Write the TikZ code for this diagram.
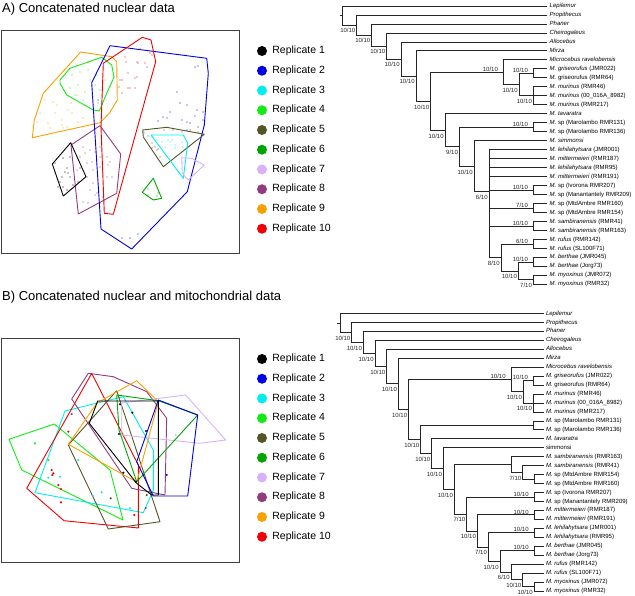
\documentclass[tikz,border=0pt]{standalone}
\usepackage{fontspec}
\setmainfont{Liberation Sans}
\usetikzlibrary{positioning}
\definecolor{rep1}{RGB}{0,0,0}
\definecolor{rep2}{RGB}{0,0,225}
\definecolor{rep3}{RGB}{0,238,238}
\definecolor{rep4}{RGB}{20,235,20}
\definecolor{rep5}{RGB}{85,85,40}
\definecolor{rep6}{RGB}{0,165,0}
\definecolor{rep7}{RGB}{215,178,250}
\definecolor{rep8}{RGB}{145,60,125}
\definecolor{rep9}{RGB}{250,160,0}
\definecolor{rep10}{RGB}{240,0,0}
\tikzset{
  ttl/.style={anchor=west, inner sep=0pt, font=\fontsize{13}{15}\selectfont},
  frame/.style={draw=black!75, line width=0.9pt},
  hull/.style={line width=0.9pt, line join=round},
  swatch/.style={circle, inner sep=0pt, minimum size=10pt},
  reptxt/.style={inner sep=1pt, font=\fontsize{10.5}{12}\selectfont},
  br/.style={line width=0.8pt, black!85, line cap=rect},
  leaf/.style={anchor=west, inner xsep=2.5pt, inner ysep=0pt, text height=4.3pt, text depth=1.2pt, font=\fontsize{6}{7}\selectfont},
  lb/.style={below left, inner sep=1pt, yshift=-2.2pt, text height=4.3pt, text depth=0pt, font=\fontsize{6}{7}\selectfont},
  la/.style={above left, inner sep=0pt, xshift=-5pt, yshift=0.4pt, text height=4.3pt, text depth=0pt, font=\fontsize{6}{7}\selectfont}
}
\begin{document}
\begin{tikzpicture}[x=1pt,y=-1pt]
\useasboundingbox (0,0) rectangle (635,596);

\node[ttl] (ttlA) at (2,9) {A) Concatenated nuclear data};
\draw[frame] (1.5,30) rectangle (239,253);
\draw[hull,rep9] (80.7,52) -- (111.7,56.7) -- (116.7,61.7) -- (117.3,100) -- (109.3,113.3) -- (100,122.7) -- (32.3,137.7) -- (34.3,120) -- (43.3,93.3) -- cycle;
\draw[hull,rep4] (60,80) -- (70,68.3) -- (101.7,57.3) -- (111.7,65) -- (114,77.3) -- (106.7,93.3) -- (99.3,111) -- (93.3,110) -- (66.7,95) -- (60,83.3) -- cycle;
\draw[hull,rep8] (71,145) -- (100,125.7) -- (120.7,154) -- (116.7,193.3) -- (78.3,214) -- cycle;
\draw[hull,rep1] (52.3,164) -- (70.7,142.7) -- (86,176.7) -- (63.3,196) -- cycle;
\draw[hull,rep2] (110,45.7) -- (206.7,58.3) -- (208.3,73.3) -- (204.3,125) -- (187.3,191.7) -- (131.7,249) -- (101,229) -- (91.7,82.7) -- cycle;
\draw[hull,rep10] (103.3,63.3) -- (142.3,37.3) -- (151,40) -- (155.7,61.7) -- (113.3,214.3) -- (104.3,213.3) -- (101,127) -- cycle;
\draw[hull,rep5] (142.7,130) -- (166.7,127.3) -- (204.3,134.3) -- (163.3,166.7) -- (143.3,137) -- cycle;
\draw[hull,rep3] (151,135) -- (183.3,135) -- (187.7,143.3) -- (183.3,178.3) -- cycle;
\draw[hull,rep7] (181.7,157.7) -- (191.7,158.3) -- (204.3,165) -- (188.3,180) -- (182.3,173.3) -- cycle;
\draw[hull,rep6] (153.3,178.3) -- (161.7,198.3) -- (153.3,200) -- (142.3,192.3) -- cycle;
\foreach \x/\y in {45/100,53/102,57/105,71/103,68/110,77/95,37/122,48/123,50/128,62/120,62/125,63/128,67/127,78/122,83/118,77/65,88/62,55/113,40/113,72/113}
  \fill[rep9] (\x,\y) circle (0.7);
\foreach \x/\y in {72/75,80/72,90/80,95/85,78/85,85/92,92/95,100/90,70/88,88/70,97/75,83/100,75/95,105/80,98/103}
  \fill[rep4] (\x,\y) circle (0.7);
\foreach \x/\y in {125/57,126/62,137/62,138/63,145/63,147/67,140/49,150/53,152/55,128/73,135/78,137/77,122/80,120/80,119/87,130/88,128/88,135/88,122/93}
  \fill[rep10] (\x,\y) circle (0.7);
\foreach \x/\y in {195/67,198/66,177/92,180/103,187/105,170/112,163/117,167/118,158/121,182/120,187/122,190/123,197/110,203/112,198/127,187/130,203/120,122/238,130/238,138/234,195/116,98/100}
  \fill[rep2] (\x,\y) circle (0.7);
\foreach \x/\y in {153/137,157/140,162/142,168/140,172/140,175/145,165/147,170/142,182/142,183/147,175/148}
  \fill[rep3] (\x,\y) circle (0.7);
\foreach \x/\y in {144/133,148/136,152/143,155/147,158/149,160/157,164/130,173/130,182/132,190/130,198/132,152/148,157/150}
  \fill[rep5] (\x,\y) circle (0.7);
\foreach \x/\y in {186/170,183/163,190/173}
  \fill[rep7] (\x,\y) circle (0.7);
\foreach \x/\y in {148/189,158/193,148/195,157/196}
  \fill[rep6] (\x,\y) circle (0.7);
\foreach \x/\y in {83/147,90/150,85/153,95/152,100/157,87/163,92/162,93/170,100/167,107/157,110/162,103/173,107/177,108/165,87/177,93/183,90/190,97/193,95/195,103/197,88/203,83/202,100/203,112/177,80/157,77/170,100/147}
  \fill[rep8] (\x,\y) circle (0.7);
\foreach \x/\y in {55/163,63/158,70/157,67/168,65/172,68/173,70/177,60/182,63/187,67/190,73/185,78/182,80/168,58/187,62/177}
  \fill[rep1] (\x,\y) circle (0.7);
\foreach \i in {1,...,10} {
  \node[swatch, fill=rep\i] (kA\i) at (262,{51+19.75*(\i-1)}) {};
  \node[reptxt, right=4pt of kA\i] (tA\i) {Replicate \i};
}

\node[ttl] (ttlB) at (2,297) {B) Concatenated nuclear and mitochondrial data};
\draw[frame] (1.5,338) rectangle (239,562);
\draw[hull,rep4] (9,439.3) -- (54.3,424) -- (110,470) -- (123,520) -- (21.7,470) -- cycle;
\draw[hull,rep3] (65,411) -- (123.3,396.7) -- (153.3,450) -- (153.3,490) -- (143.3,512.7) -- (35,492.7) -- cycle;
\draw[hull,rep10] (91.7,373.3) -- (138.3,465) -- (138.3,528) -- (64,520.7) -- (26.7,488.3) -- cycle;
\draw[hull,rep8] (71.7,399) -- (88.3,373.3) -- (113.3,376.7) -- (146.7,391.7) -- (166.7,418.3) -- (165,495) -- (131.7,488.3) -- cycle;
\draw[hull,rep5] (116.7,390.7) -- (160,521.7) -- (108.3,529) -- (68.3,445) -- cycle;
\draw[hull,rep9] (68.3,444.3) -- (97,403) -- (136.7,380.7) -- (158.3,401.7) -- (136.7,482) -- cycle;
\draw[hull,rep7] (121.7,403) -- (185.7,395) -- (225.7,440) -- (200,443.3) -- (121.7,435) -- cycle;
\draw[hull,rep6] (116.7,395) -- (158.3,400.7) -- (197.7,415) -- (136.7,481.7) -- (119,430) -- cycle;
\draw[hull,rep2] (158.3,400) -- (197.7,415) -- (187.7,496) -- (153.3,496) -- (136.7,461.7) -- cycle;
\draw[hull,rep1] (97.7,401) -- (158.3,401) -- (158.3,495) -- (151.7,495) -- (136.7,483.3) -- (89.3,423.3) -- cycle;
\foreach \x/\y in {35/443.3,48.3/460}
  \fill[rep4] (\x,\y) circle (1.2);
\foreach \x/\y in {68.3/431.7,51.7/470,53.3/473.3,52.3/475,58.3/485,61/489,61/502.3,134.3/515}
  \fill[rep10] (\x,\y) circle (1.2);
\foreach \x/\y in {78.3/460,60/476.7,48.3/477.7,92.7/495.7,101.7/492.3,130/508.3}
  \fill[rep3] (\x,\y) circle (1.2);
\foreach \x/\y in {110.7/498.3,146.7/495}
  \fill[rep5] (\x,\y) circle (1.2);
\foreach \x/\y in {71.7/414,145.7/508}
  \fill[rep8] (\x,\y) circle (1.2);
\foreach \x/\y in {120/404.3,132.3/412.7,146/431,119/434,123.3/472.7,135.7/481.7}
  \fill[rep1] (\x,\y) circle (1.2);
\fill[rep2] (166.7,475) circle (1.2);
\fill[rep7] (175.7,435) circle (1.2);
\foreach \i in {1,...,10} {
  \node[swatch, fill=rep\i] (kB\i) at (262,{359+19.75*(\i-1)}) {};
  \node[reptxt, right=4pt of kB\i] (tB\i) {Replicate \i};
}

\begin{scope}[yshift=2.98pt, y=-8.98pt]
  \coordinate (aR0) at (340,2.06);
  \coordinate (aR) at (342.7,2.06);
  \coordinate (a2) at (356.7,3.11);
  \coordinate (a3) at (371.7,4.23);
  \coordinate (a4) at (386.7,5.45);
  \coordinate (a5) at (401,6.9);
  \coordinate (a6) at (416,8.8);
  \coordinate (a7) at (430.5,11.6);
  \coordinate (a8) at (503.3,8.375);
  \coordinate (a8b) at (519,9.75);
  \coordinate (a8c) at (533.3,8.5);
  \coordinate (a8d) at (533.3,11);
  \coordinate (a9) at (445,14.84);
  \coordinate (a10) at (459.3,16.67);
  \coordinate (a11) at (533.3,14.5);
  \coordinate (a12) at (474,18.84);
  \coordinate (a13) at (489,21.69);
  \coordinate (a14) at (533.3,21.5);
  \coordinate (a15) at (533.3,23.5);
  \coordinate (a16) at (533.3,25.5);
  \coordinate (a17) at (501,29);
  \coordinate (a18) at (533.3,27.5);
  \coordinate (a19) at (518.3,30.5);
  \coordinate (a20) at (533.3,29.5);
  \coordinate (a21) at (533.3,31.5);
  \foreach \t [count=\i] in {\textit{Lepilemur}, \textit{Propithecus}, \textit{Phaner}, \textit{Cheirogaleus}, \textit{Allocebus}, \textit{Mirza}, \textit{Microcebus ravelobensis}, \textit{M. griseorufus} (JMR022), \textit{M.} griseorufus (RMR64), \textit{M. murinus} (RMR46), \textit{M. murinus} (00\_016A\_8982), \textit{M. murinus} (RMR217), \textit{M. tavaratra}, \textit{M.} sp (Marolambo RMR131), \textit{M.} sp (Marolambo RMR136), \textit{M. simmonsi}, \textit{M. lehilahytsara} (JMR001), \textit{M. mittermeieri} (RMR187), \textit{M. lehilahytsara} (RMR95), \textit{M. mittermeieri} (RMR191), \textit{M.} sp (Ivorona RMR207), \textit{M.} sp (Manantantely RMR209), \textit{M.} sp (MtdAmbre RMR160), \textit{M.} sp (MtdAmbre RMR154), \textit{M. sambiranensis} (RMR41), \textit{M. sambiranensis} (RMR163), \textit{M. rufus} (RMR142), \textit{M. rufus} (SL100F71), \textit{M. berthae} (JMR045), \textit{M. berthae} (Jorg73), \textit{M. myoxinus} (JMR072), \textit{M. myoxinus} (RMR32)}
    \node[leaf] (aL\i) at (547,\i) {\t};
  \draw[br] (aR0) -- (aR);
  \foreach \p/\c in {aR/aL1, a2/aL2, a3/aL3, a4/aL4, a5/aL5, a6/aL6, a8/aL7, a8c/aL8, a8c/aL9, a8d/aL10, a8d/aL11, a8d/aL12, a9/aL13, a11/aL14, a11/aL15, a12/aL16, a13/aL17, a13/aL18, a13/aL19, a13/aL20, a14/aL21, a14/aL22, a15/aL23, a15/aL24, a16/aL25, a16/aL26, a18/aL27, a18/aL28, a20/aL29, a20/aL30, a21/aL31, a21/aL32}
    \draw[br] (\p) |- (\c);
  \foreach \p/\c/\v in {aR/a2/10, a2/a3/10, a3/a4/10, a4/a5/10, a5/a6/10, a6/a7/10, a8/a8b/10, a8b/a8d/10, a7/a9/10, a9/a10/9, a10/a12/10, a12/a13/6, a13/a17/8, a17/a19/10, a19/a21/7}
    \draw[br] (\p) |- (\c) node[lb] {\v/10};
  \foreach \p/\c/\v in {a7/a8/10, a8b/a8c/10, a10/a11/10, a13/a14/10, a13/a15/7, a13/a16/10, a17/a18/6, a19/a20/10}
    \draw[br] (\p) |- (\c) node[la] {\v/10};
\end{scope}

\begin{scope}[yshift=-304.55pt, y=-8.95pt]
  \coordinate (bR0) at (337.5,2.06);
  \coordinate (bR) at (340,2.06);
  \coordinate (b2) at (351.7,3.12);
  \coordinate (b3) at (363.3,4.23);
  \coordinate (b4) at (375,5.47);
  \coordinate (b5) at (386.7,6.93);
  \coordinate (b6) at (398.3,8.86);
  \coordinate (b7) at (408.5,11.73);
  \coordinate (b8) at (511,8.375);
  \coordinate (b8b) at (523.3,9.75);
  \coordinate (b8c) at (533.3,8.5);
  \coordinate (b8d) at (533.3,11);
  \coordinate (b9) at (420.7,15.08);
  \coordinate (b10) at (533.3,13.5);
  \coordinate (b11) at (431.7,16.66);
  \coordinate (b12) at (443.3,18.32);
  \coordinate (b13) at (454.3,20.64);
  \coordinate (b14) at (511,17.875);
  \coordinate (b14b) at (522.7,18.75);
  \coordinate (b14c) at (534,19.5);
  \coordinate (b15) at (466.7,23.40);
  \coordinate (b16) at (534,21.5);
  \coordinate (b17) at (477.3,25.30);
  \coordinate (b18) at (534,23.5);
  \coordinate (b19) at (488.3,27.09);
  \coordinate (b20) at (534,25.5);
  \coordinate (b21) at (500,28.69);
  \coordinate (b22) at (534,27.5);
  \coordinate (b23) at (511,29.875);
  \coordinate (b23b) at (522.7,30.75);
  \coordinate (b23c) at (534,31.5);
  \foreach \t [count=\i] in {\textit{Lepilemur}, \textit{Propithecus}, \textit{Phaner}, \textit{Cheirogaleus}, \textit{Allocebus}, \textit{Mirza}, \textit{Microcebus ravelobensis}, \textit{M. griseorufus} (JMR022), \textit{M.} griseorufus (RMR64), \textit{M. murinus} (RMR46), \textit{M. murinus} (00\_016A\_8982), \textit{M. murinus} (RMR217), \textit{M.} sp (Marolambo RMR131), \textit{M.} sp (Marolambo RMR136), \textit{M. tavaratra}, simmonsi, \textit{M. sambiranensis} (RMR163), \textit{M. sambiranensis} (RMR41), \textit{M.} sp (MtdAmbre RMR154), \textit{M.} sp (MtdAmbre RMR160), \textit{M.} sp (Ivorona RMR207), \textit{M.} sp (Manantantely RMR209), \textit{M. mittermeieri} (RMR187), \textit{M. mittermeieri} (RMR191), \textit{M. lehilahytsara} (JMR001), \textit{M. lehilahytsara} (RMR95), \textit{M. berthae} (JMR045), \textit{M. berthae} (Jorg73), \textit{M. rufus} (RMR142), \textit{M. rufus} (SL100F71), \textit{M. myoxinus} (JMR072), \textit{M. myoxinus} (RMR32)}
    \node[leaf] (bL\i) at (543.3,\i) {\t};
  \draw[br] (bR0) -- (bR);
  \foreach \p/\c in {bR/bL1, b2/bL2, b3/bL3, b4/bL4, b5/bL5, b6/bL6, b8/bL7, b8c/bL8, b8c/bL9, b8d/bL10, b8d/bL11, b8d/bL12, b10/bL13, b10/bL14, b11/bL15, b12/bL16, b14/bL17, b14b/bL18, b14c/bL19, b14c/bL20, b16/bL21, b16/bL22, b18/bL23, b18/bL24, b20/bL25, b20/bL26, b22/bL27, b22/bL28, b23/bL29, b23b/bL30, b23c/bL31, b23c/bL32, b9/b10, b13/b14, b14b/b14c}
    \draw[br] (\p) |- (\c);
  \foreach \p/\c/\v in {bR/b2/10, b2/b3/10, b3/b4/10, b4/b5/10, b5/b6/10, b6/b7/10, b8/b8b/10, b8b/b8d/10, b7/b9/10, b9/b11/10, b11/b12/10, b12/b13/10, b14/b14b/7, b13/b15/7, b15/b17/10, b17/b19/7, b19/b21/10, b21/b23/6, b23/b23b/10, b23b/b23c/10}
    \draw[br] (\p) |- (\c) node[lb] {\v/10};
  \foreach \p/\c/\v in {b7/b8/10, b8b/b8c/10, b15/b16/10, b17/b18/10, b19/b20/10, b21/b22/10}
    \draw[br] (\p) |- (\c) node[la] {\v/10};
\end{scope}
\end{tikzpicture}
\end{document}
